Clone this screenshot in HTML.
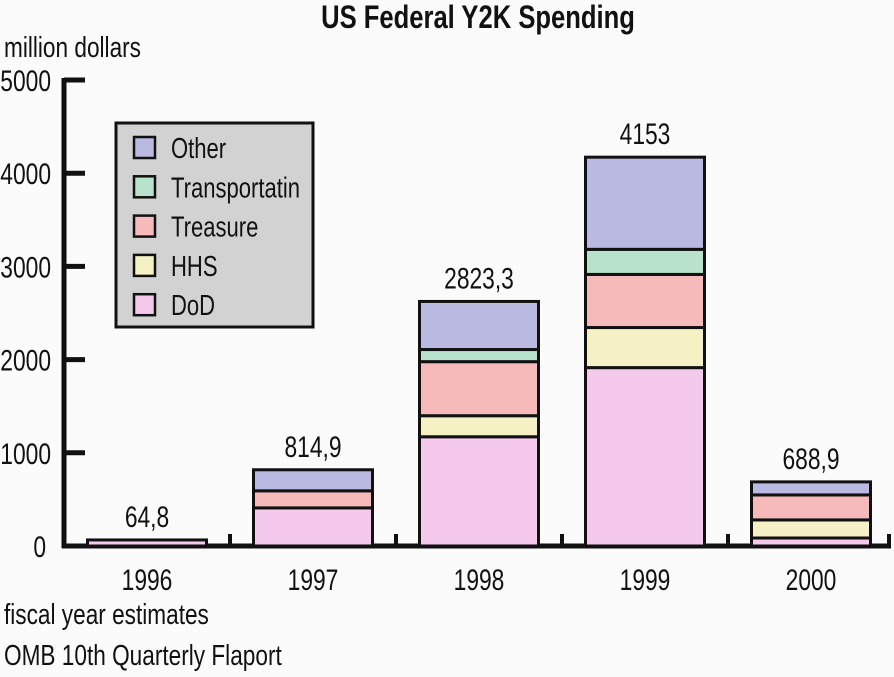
<!DOCTYPE html>
<html><head><meta charset="utf-8"><style>
html,body{margin:0;padding:0;background:#fbfbfb;}
body{width:894px;height:672px;overflow:hidden;font-family:"Liberation Sans",sans-serif;}
svg text{font-family:"Liberation Sans",sans-serif;fill:#111;}
</style></head><body>
<svg id="chart" width="894" height="672" viewBox="0 0 894 672" xmlns="http://www.w3.org/2000/svg">
<text transform="translate(478,28) scale(0.8,1)" text-anchor="middle" font-size="32" font-weight="bold">US Federal Y2K Spending</text>
<text transform="translate(4,57) scale(0.78,1)" font-size="29">million dollars</text>
<text transform="translate(4,624) scale(0.78,1)" font-size="29">fiscal year estimates</text>
<text transform="translate(4,665) scale(0.78,1)" font-size="29">OMB 10th Quarterly Flaport</text>
<g id="axes"></g>
<g id="bars"></g>
<g id="legend"></g>
</svg>
<script>
const years = ["1996","1997","1998","1999","2000"];
const totals = ["64,8","814,9","2823,3","4153","688,9"];
const seriesNames = ["DoD","HHS","Treasure","Transportatin","Other"];
const dod = [65, 409, 1172, 1914, 86];
const hhs = [0, 0, 226, 430, 194];
const treasure = [0, 183, 580, 570, 268];
const transport = [0, 0, 130, 269, 0];
const other = [0, 226, 516, 989, 140];
const yTicks = [0,1000,2000,3000,4000,5000];
const colors = ["#f4c9ec","#f6f1c4","#f6baba","#b8e2cb","#b9b9e2"];
const series = [dod,hhs,treasure,transport,other];
const NS="http://www.w3.org/2000/svg";
const y0=546, y5=80;
function yScale(v){return y0-(v/5000)*(y0-y5);}
function xCenter(i){return 147+i*166;}
const bw=119;
function mk(tag,attrs,parent){const e=document.createElementNS(NS,tag);for(const k in attrs)e.setAttribute(k,attrs[k]);parent.appendChild(e);return e;}
function txt(x,y,anchor,size,parent){return mk('text',{transform:'translate('+x+','+y+') scale(0.76,1)','text-anchor':anchor,'font-size':size},parent);}
const axes=document.getElementById('axes');
let ax=mk('line',{x1:64,y1:y5-2,x2:64,y2:y0+2,stroke:'#111','stroke-width':5},axes);


let bx=mk('line',{x1:62,y1:y0,x2:891,y2:y0,stroke:'#111','stroke-width':5},axes);


let rt=mk('line',{x1:889,y1:y0,x2:889,y2:y0-12,stroke:'#111','stroke-width':4},axes);


yTicks.forEach(t=>{
  const y=yScale(t);
  if(t>0){const l=mk('line',{x1:64,y1:y,x2:85,y2:y,stroke:'#111','stroke-width':5},axes);
  
  }
  const tx=txt(t===0?46:51,y+11,'end',30,axes);
  tx.textContent=String(t);
  
  
});
for(let i=1;i<years.length;i++){
  const x=xCenter(i)-83;
  const l=mk('line',{x1:x,y1:y0,x2:x,y2:y0-12,stroke:'#111','stroke-width':4},axes);
  
  
}
const bars=document.getElementById('bars');
years.forEach((yr,i)=>{
  let cum=0;const x=xCenter(i)-bw/2;
  series.forEach((s,k)=>{
    const v=s[i]; if(v<=0)return;
    const yt=yScale(cum+v), yb=yScale(cum);
    const r=mk('rect',{x:x,y:yt,width:bw,height:yb-yt,fill:colors[k],stroke:'#111','stroke-width':3},bars);
    
    
    cum+=v;
  });
  const lab=txt(xCenter(i),yScale(cum)-13,'middle',30,bars);
  lab.textContent=totals[i];
  
  
  const xl=txt(xCenter(i),590,'middle',30,bars);
  xl.textContent=yr;
  
  
});
const lg=document.getElementById('legend');
const box=mk('rect',{x:116,y:123,width:197,height:204,fill:'#d2d2d2',stroke:'#111','stroke-width':3},lg);


for(let k=4;k>=0;k--){
  const row=4-k, cy=147+row*39.3;
  const sw=mk('rect',{x:134,y:cy-10,width:21,height:21,fill:colors[k],stroke:'#111','stroke-width':2.5},lg);
  
  
  const t=txt(171,cy+11,'start',29,lg);
  t.textContent=seriesNames[k];
  
  
}
</script>
</body></html>
